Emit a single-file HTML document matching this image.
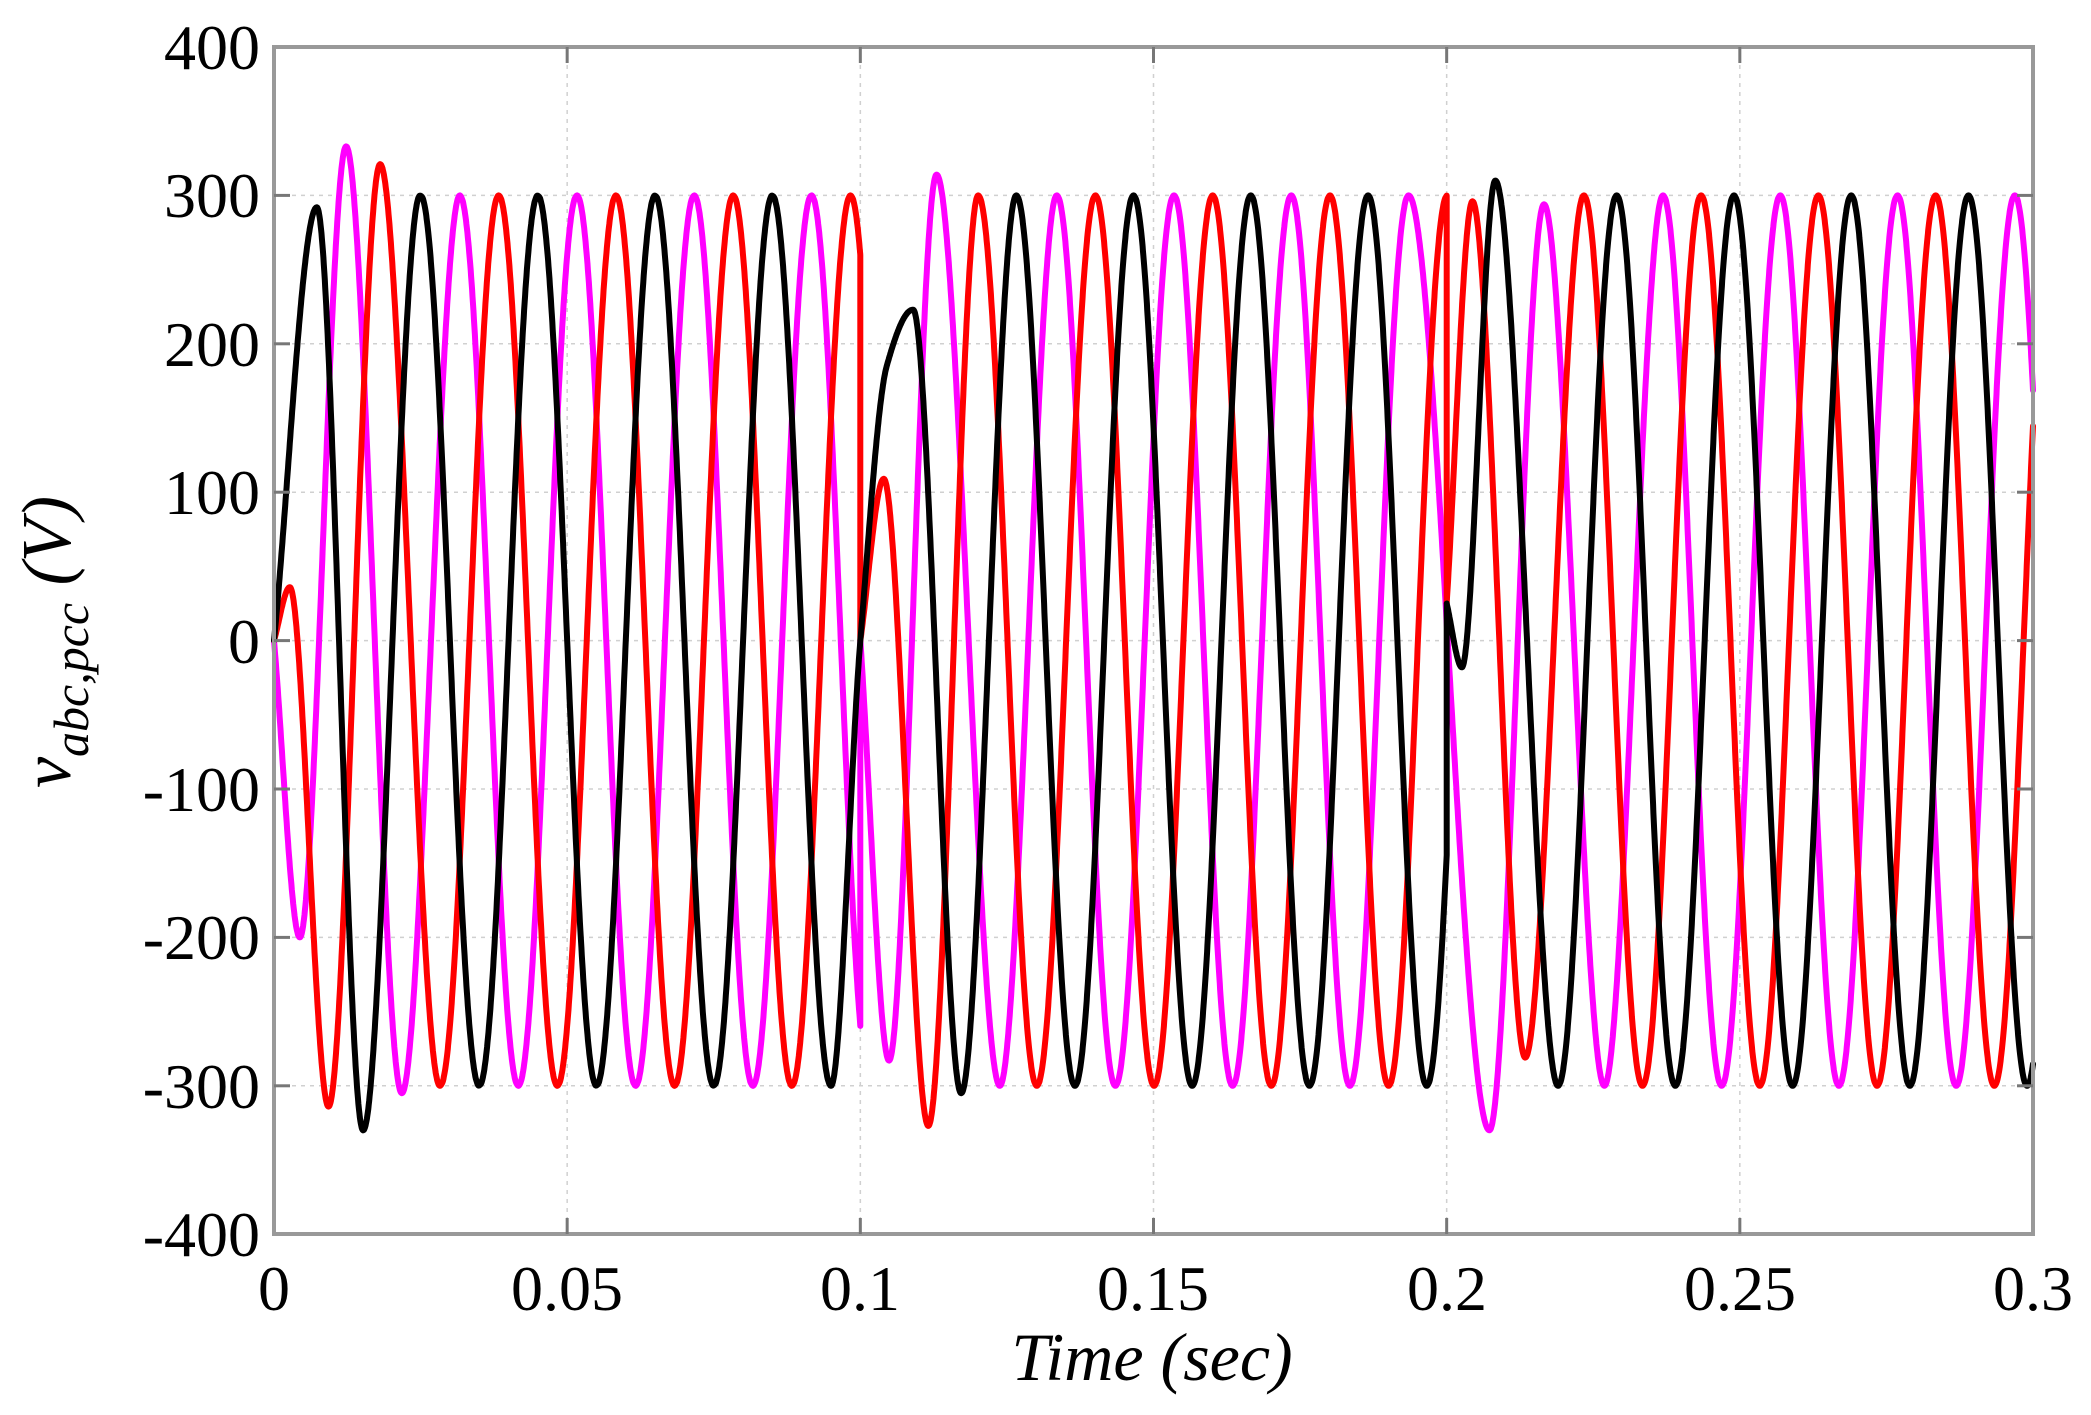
<!DOCTYPE html>
<html><head><meta charset="utf-8">
<style>html,body{margin:0;padding:0;background:#fff;}svg{display:block;}</style>
</head><body>
<svg id="s" width="2091" height="1415" viewBox="0 0 2091 1415" xmlns="http://www.w3.org/2000/svg" font-family="'Liberation Serif', serif">
<g id="grid" stroke="#d0d0d0" stroke-width="1.5" stroke-dasharray="4,5"></g>
<g id="series" fill="none" stroke-width="6" stroke-linejoin="round" stroke-linecap="round"></g>
<rect x="274" y="47" width="1759" height="1187" fill="none" stroke="#999" stroke-width="4"/>
<g id="ticks" stroke="#777" stroke-width="3"></g>
<g font-size="64" fill="#000" text-anchor="end">
<text x="260" y="69">400</text>
<text x="260" y="217">300</text>
<text x="260" y="366">200</text>
<text x="260" y="514">100</text>
<text x="260" y="663">0</text>
<text x="260" y="811">-100</text>
<text x="260" y="959">-200</text>
<text x="260" y="1108">-300</text>
<text x="260" y="1256">-400</text>
</g>
<g font-size="64" fill="#000" text-anchor="middle">
<text x="274" y="1310">0</text>
<text x="567" y="1310">0.05</text>
<text x="860" y="1310">0.1</text>
<text x="1153" y="1310">0.15</text>
<text x="1447" y="1310">0.2</text>
<text x="1740" y="1310">0.25</text>
<text x="2033" y="1310">0.3</text>
</g>
<text x="1152" y="1380" font-size="68" font-style="italic" text-anchor="middle">Time (sec)</text>
<text transform="translate(70,642) rotate(-90)" text-anchor="middle" font-size="70" font-style="italic">v<tspan font-size="50" dy="18">abc,pcc</tspan><tspan dy="-18"> (V)</tspan></text>
</svg>
<script>
(function(){
var NS="http://www.w3.org/2000/svg";
var X0=274,X1=2033,Y0=640.6,K=1.484;
function px(t){return X0+(X1-X0)*t/0.3;}
function py(v){return Y0-v*K;}
var g=document.getElementById('grid'),tk=document.getElementById('ticks');
function line(p,x1,y1,x2,y2){var l=document.createElementNS(NS,'line');l.setAttribute('x1',x1);l.setAttribute('y1',y1);l.setAttribute('x2',x2);l.setAttribute('y2',y2);p.appendChild(l);}
for(var v=-300;v<=300;v+=100){var y=py(v);line(g,X0,y,X1,y);line(tk,X0,y,X0+16,y);line(tk,X1,y,X1-16,y);}
for(var i=1;i<6;i++){var x=px(i*0.05);line(g,x,47,x,1234);line(tk,x,1234,x,1218);line(tk,x,47,x,63);}
var W=2*Math.PI*50;
function steady(ph,a,b){var r=[];for(var t=a;t<=b+1e-9;t+=0.0004){r.push([t,300*Math.cos(W*(t-ph))]);}
  if(r.length&&r[r.length-1][0]<b-1e-6)r.push([b,300*Math.cos(W*(b-ph))]);return r;}
function pchip(k){
  var n=k.length,h=[],d=[],m=[];
  for(var i=0;i<n-1;i++){h[i]=k[i+1][0]-k[i][0];d[i]=(k[i+1][1]-k[i][1])/h[i];}
  m[0]=d[0];m[n-1]=d[n-2];
  for(i=1;i<n-1;i++){if(d[i-1]*d[i]<=0)m[i]=0;else{var w1=2*h[i]+h[i-1],w2=h[i]+2*h[i-1];m[i]=(w1+w2)/(w1/d[i-1]+w2/d[i]);}}
  var out=[];
  for(i=0;i<n-1;i++){var ns=Math.max(4,Math.ceil(h[i]/0.00008));for(var s=0;s<ns;s++){var u=s/ns,hh=h[i];
    var h00=2*u*u*u-3*u*u+1,h10=u*u*u-2*u*u+u,h01=-2*u*u*u+3*u*u,h11=u*u*u-u*u;
    out.push([k[i][0]+u*hh,h00*k[i][1]+h10*hh*m[i]+h01*k[i+1][1]+h11*hh*m[i+1]]);}}
  out.push(k[n-1]);return out;}
function merge(parts){var r=[];parts.forEach(function(p){p.forEach(function(q){if(!r.length||q[0]>r[r.length-1][0]+1e-7)r.push(q);});});return r;}
function draw(pieces,col){
  var d='';pieces.forEach(function(pc,j){var pts=pchip(pc);pts.forEach(function(p,i){d+=((i==0&&j==0)?'M':'L')+px(p[0]).toFixed(1)+','+py(p[1]).toFixed(1);});});
  var e=document.createElementNS(NS,'path');e.setAttribute('d',d);e.setAttribute('stroke',col);document.getElementById('series').appendChild(e);}
draw([
 merge([[[0,0],[0.0044,-200],[0.0123,333],[0.0218,-305]],steady(0.03167,0.0317,0.1)]),
 merge([[[0.1,0],[0.1049,-283],[0.113,314],[0.1238,-300]],steady(0.1335,0.1335,0.1935),[[0.2073,-330],[0.2166,294],[0.2269,-300]],steady(0.2369,0.2369,0.3)])
],'#ff00ff');
draw([
 merge([[[0,0],[0.0027,36],[0.0093,-314],[0.0181,321]],steady(0.03833,0.0283,0.1)]),
 merge([[[0.1,0],[0.104,109],[0.1116,-327]],steady(0.1201,0.1201,0.2)]),
 merge([[[0.2,25],[0.2044,296],[0.2134,-281]],steady(0.2234,0.2234,0.3)])
],'#ff0000');
draw([
 merge([[[0,0],[0.0073,292],[0.0152,-330]],steady(0.025,0.0249,0.095),[[0.1,0],[0.1045,185],[0.109,223],[0.1172,-305]],steady(0.1266,0.1266,0.2)]),
 merge([[[0.2,25],[0.2026,-18],[0.2083,310]],steady(0.229,0.219,0.3)])
],'#000000');
})();
</script>
</body></html>
